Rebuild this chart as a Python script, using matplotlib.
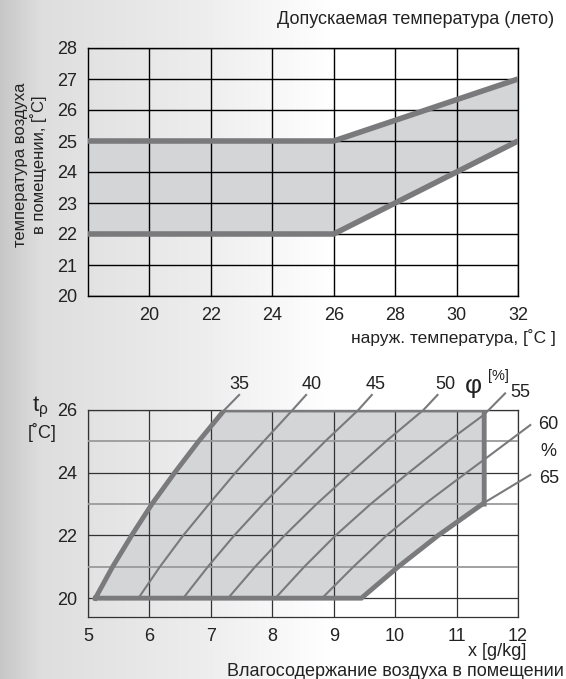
import numpy as np
import matplotlib
matplotlib.use("Agg")
import matplotlib.pyplot as plt

plt.rcParams['font.family'] = ['Liberation Sans', 'DejaVu Sans']

# --- top chart data: allowed room temperature (summer)
t_out = [18, 26, 32]
t_upper = [25, 25, 27]
t_lower = [22, 22, 25]
top_xticks = [20, 22, 24, 26, 28, 30, 32]
top_yticks = [20, 21, 22, 23, 24, 25, 26, 27, 28]

# --- bottom chart data: humidity lines (x in g/kg, t in C)
rh_labels = ["35", "40", "45", "50", "55", "60", "65"]
rh_t = [20, 21, 22, 23, 24, 25, 26]
rh_x = {
    "35": [5.12, 5.40, 5.71, 6.04, 6.41, 6.80, 7.22],
    "40": [5.82, 6.17, 6.55, 6.97, 7.40, 7.86, 8.33],
    "45": [6.55, 6.95, 7.38, 7.85, 8.35, 8.86, 9.40],
    "50": [7.28, 7.72, 8.20, 8.72, 9.28, 9.85, 10.46],
    "55": [8.05, 8.52, 9.03, 9.60, 10.22, 10.86, 11.55],
    "60": [8.81, 9.32, 9.86, 10.48, 11.16, 11.85, 12.55],
    "65": [9.45, 10.05, 10.70, 11.42, 12.10, 12.80, 13.50],
}
# leader ends of the lines (to the labels)
rh_end_x = [7.46, 8.55, 9.62, 10.69, 11.79, 12.2, 12.2]
rh_end_t = [26.48, 26.48, 26.48, 26.48, 26.53, 25.52, 23.93]
# comfort zone
zone_x_max = 11.45
zone_t_min, zone_t_max = 20, 26
zone_t_corner = 23.0
bot_xticks = [5, 6, 7, 8, 9, 10, 11, 12]

W, H = 566, 679
fig = plt.figure(figsize=(W / 100, H / 100), dpi=100)

# grey gradient background (shows through the plot areas too)
bg = fig.add_axes([0, 0, 1, 1], zorder=-10)
gx = np.arange(W)
shade = np.interp(gx, [0, 40, 200, 330], [0.78, 0.87, 0.93, 1.0])
img = np.stack([shade, shade, shade * 1.005], axis=-1).clip(0, 1)
bg.imshow(img[None, :, :], aspect='auto', extent=[0, 1, 0, 1])
bg.axis('off')

line_c = '#7a7a7c'
fill_c = '#d4d5d7'


def fx(px):
    return px / W


def fy(py):
    return 1 - py / H


# ---------------- top chart
ax1 = fig.add_axes([fx(88), fy(296), fx(518) - fx(88), fy(48) - fy(296)])
ax1.set_facecolor('none')
ax1.set_xlim(18, 32)
ax1.set_ylim(20, 28)
ax1.fill_between(t_out, t_lower, t_upper, color=fill_c, zorder=1, lw=0)
ax1.set_xticks(top_xticks)
ax1.set_yticks(top_yticks)
ax1.grid(True, color='black', lw=1.0, zorder=2)
ax1.set_axisbelow(False)
ax1.plot(t_out, t_upper, color=line_c, lw=4, zorder=3, solid_capstyle='butt')
ax1.plot(t_out, t_lower, color=line_c, lw=4, zorder=3, solid_capstyle='butt')
ax1.tick_params(length=0, labelsize=13, pad=8, labelcolor='#222222')
for s in ax1.spines.values():
    s.set_color('black')
    s.set_linewidth(1.0)

fig.text(fx(554), fy(20), "Допускаемая температура (лето)", ha='right', va='center',
         fontsize=13, color='#222222')
fig.text(fx(556), fy(338), "наруж. температура, [˚C ]", ha='right', va='center',
         fontsize=12.5, color='#222222')
fig.text(fx(30), fy(165), "температура воздуха\nв помещении, [˚C]", ha='center', va='center',
         rotation=90, fontsize=12, linespacing=1.1, color='#222222')

# ---------------- bottom chart
ax2 = fig.add_axes([fx(88), fy(617), fx(518) - fx(88), fy(410) - fy(617)])
ax2.set_facecolor('none')
ax2.set_xlim(5, 12)
ax2.set_ylim(19.4, 26)
ax2.set_xticks(bot_xticks)
ax2.set_yticks([20, 22, 24, 26])
ax2.set_yticks([21, 23, 25], minor=True)
ax2.grid(True, which='major', color='#333333', lw=0.9, zorder=2)
ax2.grid(True, which='minor', axis='y', color='#9a9a9a', lw=1.3, zorder=2)
ax2.set_axisbelow(False)
ax2.tick_params(which='both', length=0, labelsize=13, pad=8, labelcolor='#222222')
for s in ax2.spines.values():
    s.set_color('#333333')
    s.set_linewidth(0.9)

x35 = np.array(rh_x["35"])
t65 = np.linspace(20, zone_t_corner, 4)
x65 = np.interp(t65, rh_t, rh_x["65"])
poly_x = list(x35) + [zone_x_max, zone_x_max] + list(x65[::-1])
poly_t = list(rh_t) + [zone_t_max, zone_t_corner] + list(t65[::-1])
ax2.fill(poly_x, poly_t, color=fill_c, zorder=1, lw=0)

# humidity lines clipped to the zone, then leaders to labels
for i, lab in enumerate(rh_labels):
    xs = np.array(rh_x[lab])
    ts = np.array(rh_t, dtype=float)
    inside = xs <= zone_x_max
    if inside.all():
        px, pt = list(xs), list(ts)
    else:
        k = np.argmax(~inside)
        tcross = np.interp(zone_x_max, xs[k - 1:k + 1], ts[k - 1:k + 1])
        px = list(xs[:k]) + [zone_x_max]
        pt = list(ts[:k]) + [tcross]
    ax2.plot(px, pt, color=line_c, lw=1.5, zorder=3)
    ax2.plot([px[-1], rh_end_x[i]], [pt[-1], rh_end_t[i]], color=line_c, lw=1.5,
             zorder=3, clip_on=False)

# zone border
bx = list(x35) + [zone_x_max, zone_x_max] + list(x65[::-1]) + [x35[0]]
bt = list(rh_t) + [zone_t_max, zone_t_corner] + list(t65[::-1]) + [zone_t_min]
ax2.plot(bx, bt, color=line_c, lw=3.5, zorder=4, solid_joinstyle='miter')

# labels of humidity lines
lab_pos = [(7.46, 26.82), (8.64, 26.82), (9.68, 26.82), (10.81, 26.82),
           (12.03, 26.55), (12.5, 25.55), (12.5, 23.8)]
for lab, (lx, ly) in zip(rh_labels, lab_pos):
    ax2.text(lx, ly, lab, ha='center', va='center', fontsize=13, clip_on=False,
             color='#222222')
ax2.text(12.5, 24.68, "%", ha='center', va='center', fontsize=13, clip_on=False,
         color='#222222')
ax2.text(11.27, 26.78, "φ", ha='center', va='center', fontsize=19, clip_on=False,
         color='#222222')
ax2.text(11.68, 27.08, "[%]", ha='center', va='center', fontsize=10.5, clip_on=False,
         color='#222222')

fig.text(fx(40), fy(407), r"$\mathregular{t_{\rho}}$", ha='center', va='center',
         fontsize=16, color='#222222')
fig.text(fx(42), fy(432), "[˚C]", ha='center', va='center', fontsize=13, color='#222222')
fig.text(fx(526), fy(652), "x [g/kg]", ha='right', va='center', fontsize=13,
         color='#222222')
fig.text(fx(564), fy(672), "Влагосодержание воздуха в помещении", ha='right', va='center',
         fontsize=13, color='#222222')

fig.savefig("out.png", dpi=100)
